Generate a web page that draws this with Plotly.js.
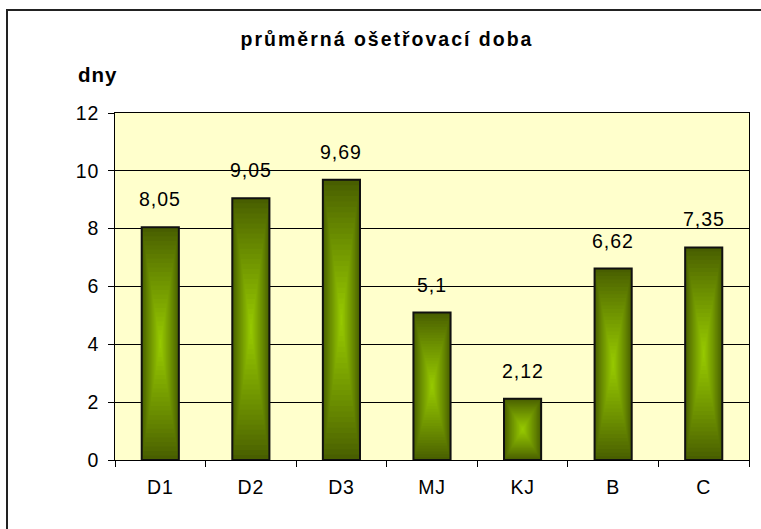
<!DOCTYPE html>
<html>
<head>
<meta charset="utf-8">
<script src="https://cdn.plot.ly/plotly-3.0.1.min.js"></script>
<style>
  html, body { margin: 0; padding: 0; background: #fff; }
  #chart { width: 761px; height: 529px; }
  .gtitle { letter-spacing: 2px; }
  .annotation-text { letter-spacing: 1px; }
  .ytick text, .xtick text { letter-spacing: 0.8px; }
</style>
</head>
<body>
<div id="chart"></div>
<script>
// Data
const categories = ["D1", "D2", "D3", "MJ", "KJ", "B", "C"];
const values = [8.05, 9.05, 9.69, 5.1, 2.12, 6.62, 7.35];
const yTicks = [0, 2, 4, 6, 8, 10, 12];
const chartTitle = "průměrná ošetřovací doba";
const yLabel = "dny";

// Gradient construction (concentric rectangles, dark edge -> bright centre)
const dark = [72, 94, 0];
const bright = [153, 204, 0];
const N = 26;
const barW = 0.41;
const traces = [];
function mix(f) {
  const c = dark.map((d, i) => Math.round(d + (bright[i] - d) * f));
  return `rgb(${c[0]},${c[1]},${c[2]})`;
}
for (let k = 0; k < N; k++) {
  const f = k / N;
  const inset = 0.5 * f;
  traces.push({
    type: "bar",
    x: categories,
    y: values.map(v => v * (1 - 2 * inset)),
    base: values.map(v => v * inset),
    width: barW * (1 - 2 * inset),
    marker: { color: mix(Math.pow(f, 0.9)), line: { width: 0 } },
    hoverinfo: "skip",
    showlegend: false
  });
}
// Outline
traces.push({
  type: "bar",
  x: categories,
  y: values,
  width: barW,
  marker: { color: "rgba(0,0,0,0)", line: { color: "#111", width: 2 } },
  hoverinfo: "skip",
  showlegend: false
});

const fontFam = "Liberation Sans, Arial, sans-serif";
const annotations = categories.map((c, i) => ({
  x: c, y: values[i], xref: "x", yref: "y",
  text: String(values[i]).replace(".", ","),
  showarrow: false, yanchor: "middle", yshift: 28,
  font: { family: fontFam, size: 19.5, color: "#000" }
}));
annotations.push({
  xref: "paper", yref: "paper", x: -0.062, y: 1.11,
  xanchor: "left", yanchor: "middle", showarrow: false,
  text: "<b>" + yLabel + "</b>",
  font: { family: fontFam, size: 20.5, color: "#000" }
});

// Outer chart border: only left and top edges are visible in the frame
const bx0 = (7 - 115) / 634, by1 = 1 + (113 - 10) / 347;
const borderPath = `M ${bx0},-0.6 L ${bx0},${by1} L 1.5,${by1}`;

const layout = {
  width: 761, height: 529,
  margin: { l: 115, r: 12, t: 113, b: 69, pad: 0 },
  paper_bgcolor: "#ffffff",
  plot_bgcolor: "#FFFFCC",
  barmode: "overlay",
  separators: ",.",
  showlegend: false,
  title: {
    text: "<b>" + chartTitle + "</b>",
    xref: "container", yref: "container",
    x: 387 / 761, xanchor: "center",
    y: 1 - 39 / 529, yanchor: "middle",
    font: { family: fontFam, size: 19.5, color: "#000" }
  },
  xaxis: {
    type: "category",
    range: [-0.5, 6.5],
    tickson: "boundaries",
    ticks: "outside", ticklen: 6, tickcolor: "#000", tickwidth: 1,
    showline: true, linecolor: "#000", linewidth: 1, mirror: true,
    showgrid: false, zeroline: false,
    tickfont: { family: fontFam, size: 19.5, color: "#000" },
    ticklabelstandoff: 10,
    fixedrange: true
  },
  yaxis: {
    range: [0, 12],
    tickvals: yTicks,
    ticktext: yTicks.map(String),
    ticks: "outside", ticklen: 6, tickcolor: "#000", tickwidth: 1,
    showline: true, linecolor: "#000", linewidth: 1, mirror: true,
    showgrid: true, gridcolor: "#000", gridwidth: 1,
    zeroline: false,
    tickfont: { family: fontFam, size: 19.5, color: "#000" },
    ticklabelstandoff: 5,
    fixedrange: true
  },
  annotations: annotations,
  shapes: [{
    type: "path", xref: "paper", yref: "paper",
    path: borderPath,
    line: { color: "#222", width: 2 },
    layer: "below"
  }]
};

Plotly.newPlot("chart", traces, layout, { displayModeBar: false, staticPlot: true });
</script>
</body>
</html>
